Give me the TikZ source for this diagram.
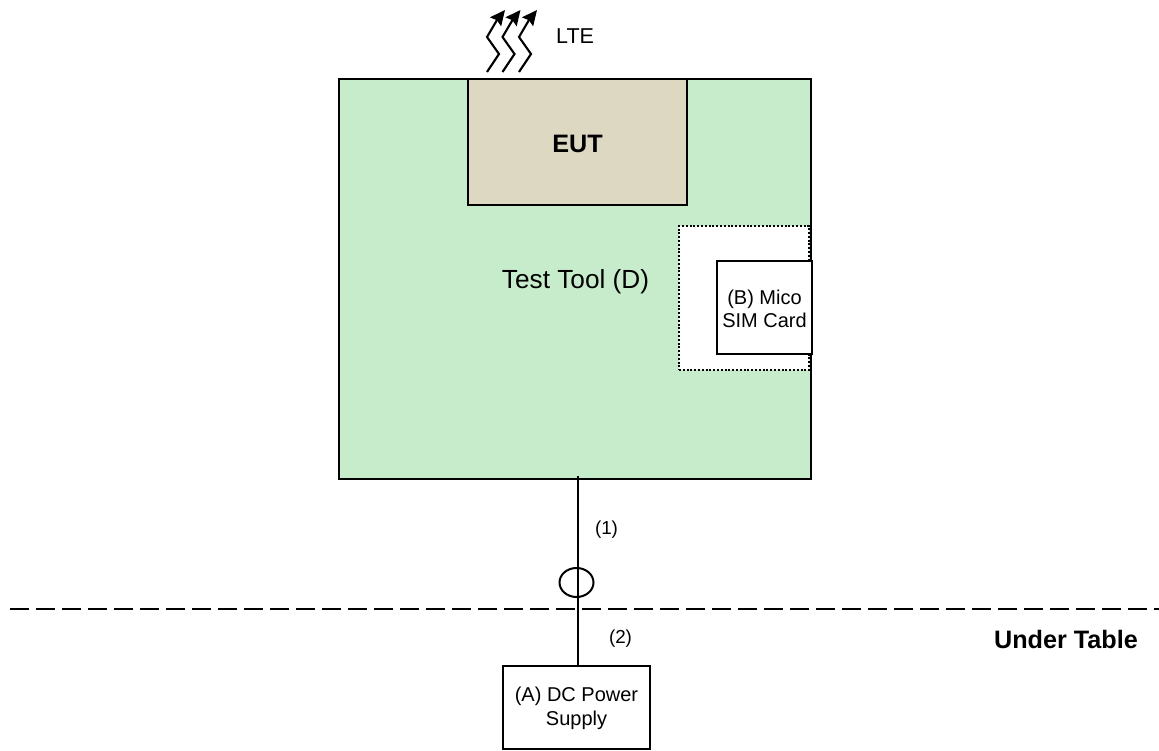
\documentclass[tikz,border=0pt]{standalone}
\usepackage{fontspec}
\setmainfont{Liberation Sans}
\usepackage{tikz}
\usetikzlibrary{shapes.geometric, arrows.meta, positioning, calc}
\usepackage{xcolor}
\definecolor{toolgreen}{RGB}{198, 236, 203}
\definecolor{euttan}{RGB}{221, 216, 194}
\tikzset{
    outline/.style={draw=black, line width=2pt, anchor=north west, inner sep=0pt, outer sep=0pt},
    bigtext/.style={font=\fontsize{26.2}{30}\selectfont, inner sep=0pt},
    boldtext/.style={font=\bfseries\fontsize{25.2}{30}\selectfont, inner sep=0pt},
    smalltext/.style={font=\fontsize{20}{23.5}\selectfont, align=center, inner sep=0pt},
    numtext/.style={font=\fontsize{18.8}{22}\selectfont, inner sep=0pt},
    radio/.style={line width=2.1pt, -{Stealth[length=15pt, width=14pt, inset=2pt]}}
}

\begin{document}
\begin{tikzpicture}[x=1pt, y=-1pt]
    \useasboundingbox (0,0) rectangle (1159,751);

    % --- Test Tool board ---
    \node[outline, fill=toolgreen, minimum width=472pt, minimum height=400pt] (tool) at (339,79) {};
    \node[outline, fill=euttan, minimum width=219pt, minimum height=126pt] (eut) at (468,79) {};
    \node[boldtext] (eutlabel) at ($(eut.center)+(0,2)$) {EUT};
    \node[bigtext] (toollabel) at (575.5,282) {Test Tool (D)};

    % --- SIM slot and card ---
    \node[draw=black, line width=2pt, dash pattern=on 2pt off 1.8pt, fill=white, anchor=north west, outer sep=0pt, minimum width=130pt, minimum height=144pt] (slot) at (679,226) {};
    \node[outline, fill=white, minimum width=95pt, minimum height=93pt] (sim) at (717,261) {};
    \node[smalltext] (simlabel) at ($(sim.center)+(0,1.5)$) {(B) Mico\\SIM Card};

    % --- LTE antenna ---
    \foreach \dx in {0, 15.5, 32} {
        \draw[radio, shift={(\dx,0)}] (487,72) -- (499,54) -- (487,37) -- (497,20) -- (505,10);
    }
    \node[smalltext, font=\fontsize{21.5}{25}\selectfont, anchor=west] (lte) at (556,36) {LTE};

    % --- Table edge ---
    \coordinate (edgeleft) at (10,609);
    \coordinate (edgeright) at (1159,609);
    \draw[line width=2pt, dash pattern=on 19pt off 7pt] (edgeleft) -- (edgeright);
    \node[boldtext, anchor=east] (under) at (1138,639) {Under Table};

    % --- Power supply and cable ---
    \node[outline, fill=white, minimum width=147pt, minimum height=83pt] (dc) at (503,666) {};
    \node[smalltext] (dclabel) at ($(dc.center)+(0,1)$) {(A) DC Power\\Supply};
    \node[draw=black, line width=2pt, ellipse, outer sep=0pt, minimum width=34pt, minimum height=29pt, inner sep=0pt] (ring) at (576.5,582.5) {};
    \draw[line width=2pt] ($(tool.south -| ring.center)+(1,-3)$) -- ($(dc.north -| ring.center)+(1,0)$);
    \node[numtext] (one) at (606.5,530) {(1)};
    \node[numtext] (two) at (620.5,639) {(2)};
\end{tikzpicture}
\end{document}
